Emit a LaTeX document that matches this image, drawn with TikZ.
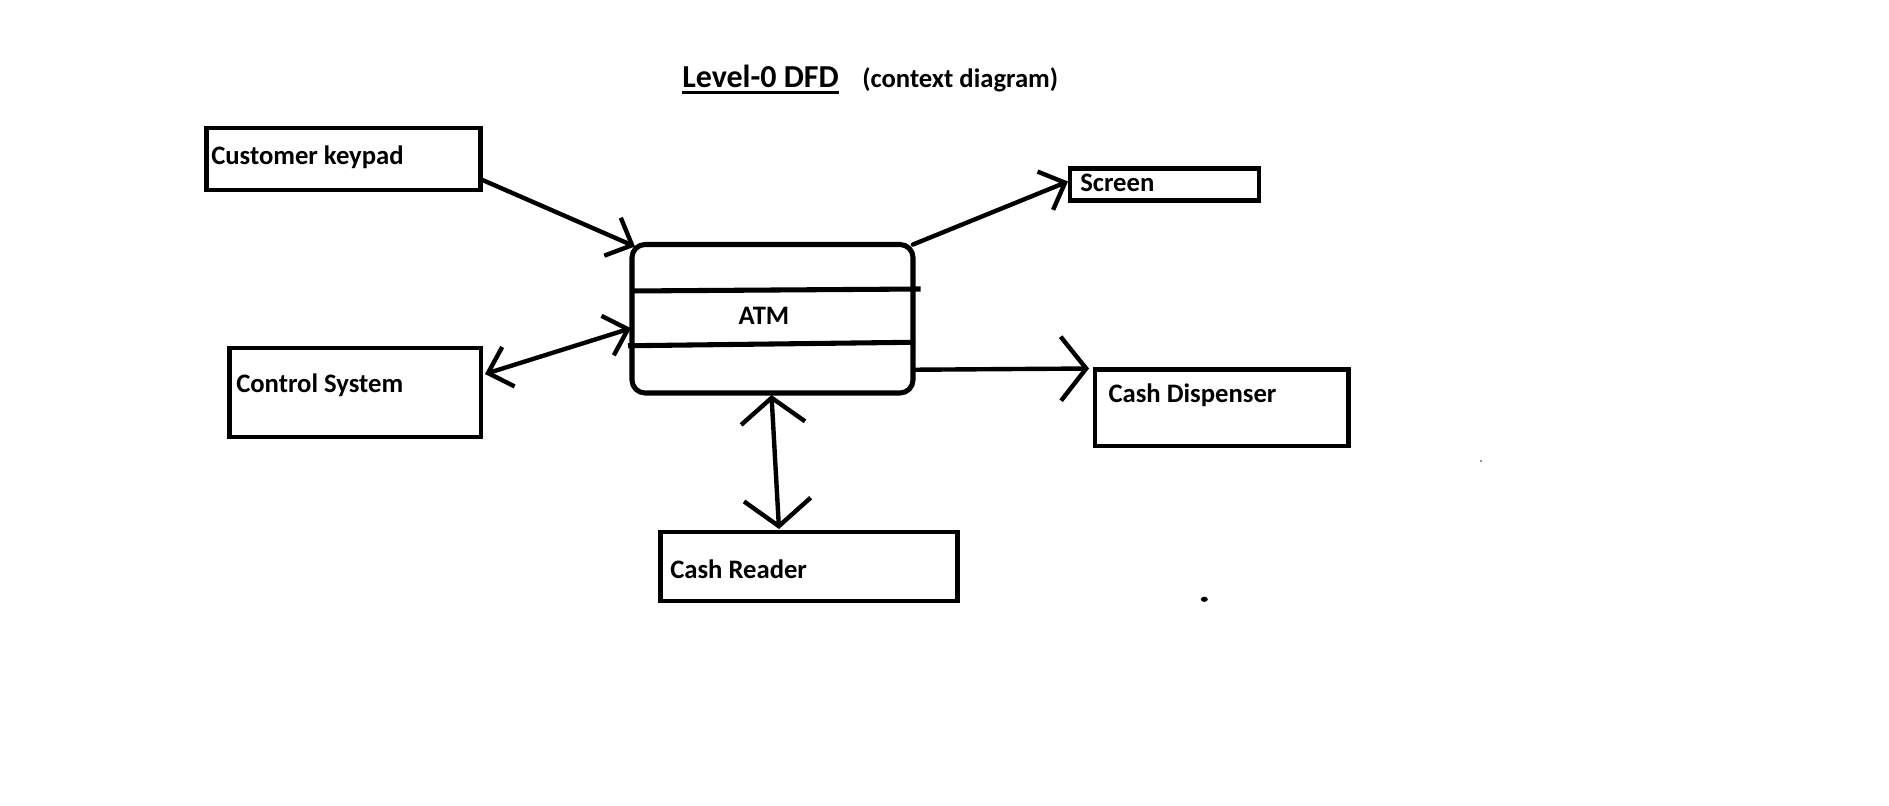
\documentclass[tikz,border=0pt]{standalone}
\usepackage{fontspec}
\setmainfont{Carlito}
\usetikzlibrary{arrows.meta,calc}
\begin{document}
\begin{tikzpicture}[x=0.75pt,y=-0.75pt,
  box/.style={draw=black, line width=3.3pt, rectangle, inner sep=0pt, outer sep=0pt},
  lbl/.style={anchor=base west, inner sep=0pt, font=\fontsize{20}{24}\selectfont\bfseries},
  flow/.style={line width=3.3pt, line cap=round},
  tipS/.style={-{Straight Barb[length=16pt,width=31pt]}},
  tipL/.style={-{Straight Barb[length=19pt,width=48pt]}},
  tipSS/.style={{Straight Barb[length=16pt,width=31pt]}-{Straight Barb[length=16pt,width=31pt]}},
  tipLL/.style={{Straight Barb[length=19pt,width=48pt]}-{Straight Barb[length=20pt,width=50pt]}}
]
\useasboundingbox (0,0) rectangle (1889,806);
\fill[white] (0,0) rectangle (1889,806);

% title
\node[anchor=base west, inner sep=0pt, font=\fontsize{24}{28}\selectfont\bfseries] (title) at (682,87.3) {Level-0 DFD};
\node[anchor=base west, inner sep=0pt, font=\fontsize{20}{24}\selectfont\bfseries] (sub) at (862,87.3) {(context diagram)};
\draw[line width=2.5pt] ($(title.base west)+(0,5.4)$) -- ($(title.base east)+(0,5.4)$);

% boxes
\node[box, minimum width=205.5pt, minimum height=46.5pt] (ck) at (343.5,159) {};
\node[box, minimum width=141.75pt, minimum height=24pt] (scr) at (1164.5,184.5) {};
\node[box, line width=3.8pt, rounded corners=9.75pt, minimum width=210.75pt, minimum height=111.375pt] (atm) at (772.5,318.75) {};
\node[box, minimum width=188.625pt, minimum height=66.75pt] (cs) at (355.25,392.5) {};
\node[box, minimum width=190.125pt, minimum height=57.375pt] (cd) at (1221.75,407.75) {};
\node[box, minimum width=222.75pt, minimum height=51.75pt] (cr) at (809,566.5) {};

% ATM compartment lines
\draw[line width=3.8pt] ($(atm.west)+(-2,-27.75)$) -- ($(atm.east)+(7.7,-29.75)$);
\draw[line width=3.8pt] ($(atm.west)+(-4,27)$) -- ($(atm.east)+(2,23.5)$);

% labels
\node[lbl] (ckt) at (211,165) {Customer keypad};
\node[lbl] (scrt) at (1080,191.7) {Screen};
\node[lbl, anchor=base] (atmt) at (764,324) {ATM};
\node[lbl] (cst) at (236,392.7) {Control System};
\node[lbl] (cdt) at (1108.3,402.7) {Cash Dispenser};
\node[lbl] (crt) at (670,578.3) {Cash Reader};

% flows
\draw[flow, tipS] ($(ck.east)+(2,21)$) -- ($(atm.north west)+(3,2)$);
\draw[flow, tipS] (atm.north east) -- ($(scr.west)+(-2,-3)$);
\draw[flow, tipSS] ($(cs.east)+(4,-18.5)$) -- ($(atm.west)+(-1,9.5)$);
\draw[flow, tipL] ($(atm.east)+(0,51)$) -- ($(cd.north west)+(-6,-1)$);
\draw[flow, tipLL] ($(atm.south)+(-1,2)$) -- ($(cr.north)+(-30,-3)$);

% stray dots
\fill[black] (1204.3,599.3) ellipse [x radius=3.5, y radius=2.6];
\fill[black!55] (1481,461) circle [radius=1.1];
\end{tikzpicture}
\end{document}
